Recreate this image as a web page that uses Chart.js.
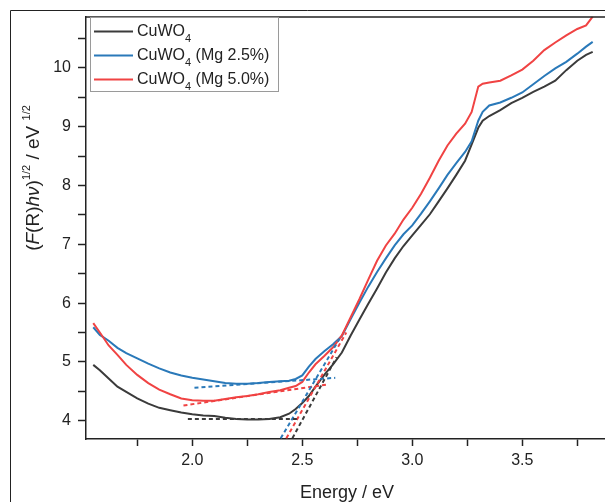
<!DOCTYPE html>
<html>
<head>
<meta charset="utf-8">
<script src="https://cdn.jsdelivr.net/npm/chart.js@4/dist/chart.umd.min.js"></script>
<style>
  html, body { margin: 0; padding: 0; background: #fff; }
  #wrap { width: 605px; height: 502px; position: relative; }
</style>
</head>
<body>
<div id="wrap"><canvas id="tauc-chart" width="605" height="502"></canvas></div>
<script>
const energy = [1.55, 1.58, 1.62, 1.66, 1.70, 1.75, 1.80, 1.85, 1.90, 1.95, 2.00, 2.05, 2.10, 2.15, 2.20, 2.25, 2.30, 2.35, 2.40, 2.44, 2.47, 2.50, 2.53, 2.56, 2.60, 2.64, 2.68, 2.72, 2.76, 2.80, 2.84, 2.88, 2.92, 2.96, 3.00, 3.04, 3.08, 3.12, 3.16, 3.20, 3.24, 3.27, 3.30, 3.32, 3.35, 3.40, 3.45, 3.50, 3.55, 3.60, 3.65, 3.70, 3.75, 3.79, 3.82];

const cuwo4 = [4.95, 4.86, 4.72, 4.58, 4.49, 4.38, 4.29, 4.22, 4.18, 4.14, 4.11, 4.09, 4.08, 4.05, 4.03, 4.02, 4.02, 4.03, 4.06, 4.12, 4.20, 4.30, 4.42, 4.58, 4.78, 4.96, 5.16, 5.45, 5.72, 5.99, 6.25, 6.52, 6.76, 6.97, 7.15, 7.33, 7.51, 7.73, 7.95, 8.18, 8.42, 8.70, 8.98, 9.10, 9.18, 9.28, 9.40, 9.49, 9.59, 9.68, 9.78, 9.96, 10.12, 10.22, 10.27];
const cuwo4Mg25 = [5.59, 5.46, 5.36, 5.24, 5.15, 5.06, 4.97, 4.89, 4.82, 4.77, 4.73, 4.70, 4.67, 4.64, 4.63, 4.63, 4.64, 4.66, 4.67, 4.68, 4.71, 4.77, 4.92, 5.05, 5.18, 5.30, 5.44, 5.73, 6.01, 6.28, 6.53, 6.76, 6.98, 7.17, 7.32, 7.52, 7.73, 7.95, 8.18, 8.38, 8.57, 8.75, 9.10, 9.25, 9.36, 9.41, 9.49, 9.58, 9.72, 9.86, 9.99, 10.10, 10.24, 10.36, 10.44];
const cuwo4Mg50 = [5.66, 5.50, 5.28, 5.12, 4.95, 4.78, 4.64, 4.53, 4.45, 4.38, 4.35, 4.34, 4.34, 4.37, 4.40, 4.42, 4.45, 4.49, 4.52, 4.56, 4.59, 4.66, 4.82, 4.96, 5.10, 5.25, 5.45, 5.76, 6.07, 6.40, 6.72, 6.98, 7.18, 7.42, 7.62, 7.86, 8.13, 8.42, 8.68, 8.88, 9.05, 9.25, 9.68, 9.73, 9.75, 9.78, 9.87, 9.97, 10.12, 10.30, 10.43, 10.55, 10.66, 10.72, 10.87];

// tangent lines (baseline + absorption edge)
const blackBaseX = [1.98, 2.48];
const blackBaseY = [4.03, 4.03];
const blackEdgeX = [2.44, 2.656];
const blackEdgeY = [3.60, 5.08];
const blueBaseX = [2.01, 2.65];
const blueBaseY = [4.56, 4.73];
const blueEdgeX = [2.386, 2.675];
const blueEdgeY = [3.60, 5.43];
const redBaseX = [1.96, 2.62];
const redBaseY = [4.26, 4.62];
const redEdgeX = [2.412, 2.70];
const redEdgeY = [3.60, 5.50];

const xTicks = [1.75, 2.0, 2.25, 2.5, 2.75, 3.0, 3.25, 3.5, 3.75];
const yTicks = [4, 4.5, 5, 5.5, 6, 6.5, 7, 7.5, 8, 8.5, 9, 9.5, 10, 10.5];

const seriesLabels = ["CuWO4", "CuWO4 (Mg 2.5%)", "CuWO4 (Mg 5.0%)"];
const BLACK = "#3b3b3b";
const BLUE = "#2a79b9";
const RED = "#f04343";
const FONT = "'Liberation Sans', Arial, sans-serif";

const toPoints = (xs, ys) => xs.map((x, i) => ({ x, y: ys[i] }));

const mainLine = (label, ys, color, order) => ({
  label,
  data: toPoints(energy, ys),
  borderColor: color,
  borderWidth: 2,
  pointRadius: 0,
  tension: 0,
  order,
});

const fitLine = (xs, ys, color) => ({
  label: "",
  data: toPoints(xs, ys),
  borderColor: color,
  borderWidth: 2,
  borderDash: [4, 3],
  pointRadius: 0,
  order: 0,
});

// draws frame, axis titles with italics / superscripts, and legend with subscripts
const decorPlugin = {
  id: "decor",
  afterDraw(chart) {
    const { ctx, chartArea } = chart;
    ctx.save();
    ctx.strokeStyle = "#222";
    ctx.lineWidth = 1;
    ctx.beginPath();
    ctx.moveTo(10.5, 502);
    ctx.lineTo(10.5, 10.5);
    ctx.lineTo(605, 10.5);
    ctx.stroke();
    ctx.lineWidth = 1.5;
    ctx.beginPath();
    ctx.moveTo(chartArea.left, chartArea.top + 0.5);
    ctx.lineTo(605, chartArea.top + 0.5);
    ctx.stroke();

    ctx.fillStyle = "#222";
    ctx.textBaseline = "alphabetic";

    // x title
    ctx.font = `18px ${FONT}`;
    ctx.textAlign = "center";
    ctx.fillText("Energy / eV", 347, 498);

    // y title
    const parts = [
      ["(", "n"], ["F", "i"], ["(R)", "n"], ["hν", "i"], [")", "n"],
      ["1/2", "s"], [" / eV ", "n"], ["1/2", "s"],
    ];
    const fontFor = (kind) =>
      kind === "i" ? `italic 19px ${FONT}` : kind === "s" ? `11px ${FONT}` : `19px ${FONT}`;
    let total = 0;
    parts.forEach(([t, k]) => { ctx.font = fontFor(k); total += ctx.measureText(t).width; });
    ctx.translate(39, 178);
    ctx.rotate(-Math.PI / 2);
    ctx.textAlign = "left";
    let x = -total / 2;
    parts.forEach(([t, k]) => {
      ctx.font = fontFor(k);
      ctx.fillText(t, x, k === "s" ? -9 : 0);
      x += ctx.measureText(t).width;
    });
    ctx.restore();

    // legend
    ctx.save();
    ctx.strokeStyle = "#9a9a9a";
    ctx.lineWidth = 1;
    ctx.strokeRect(90.5, 17.5, 188, 74);
    const colors = [BLACK, BLUE, RED];
    const rowY = [31.5, 55.5, 79.5];
    seriesLabels.forEach((label, i) => {
      const y = rowY[i];
      ctx.strokeStyle = colors[i];
      ctx.lineWidth = 2;
      ctx.beginPath();
      ctx.moveTo(94, y);
      ctx.lineTo(133, y);
      ctx.stroke();
      ctx.fillStyle = "#222";
      ctx.textBaseline = "middle";
      ctx.textAlign = "left";
      ctx.font = `16px ${FONT}`;
      let tx = 137;
      ctx.fillText("CuWO", tx, y);
      tx += ctx.measureText("CuWO").width;
      ctx.font = `11px ${FONT}`;
      ctx.fillText("4", tx, y + 7);
      tx += ctx.measureText("4").width;
      const rest = label.slice(5);
      if (rest) {
        ctx.font = `16px ${FONT}`;
        ctx.fillText(rest, tx, y);
      }
    });
    ctx.restore();
  },
};

const isHalf = (v) => Math.abs(v * 2 - Math.round(v * 2)) < 1e-6;

new Chart(document.getElementById("tauc-chart"), {
  type: "line",
  data: {
    datasets: [
      mainLine(seriesLabels[0], cuwo4, BLACK, 3),
      mainLine(seriesLabels[1], cuwo4Mg25, BLUE, 2),
      mainLine(seriesLabels[2], cuwo4Mg50, RED, 1),
      fitLine(blackBaseX, blackBaseY, BLACK),
      fitLine(blackEdgeX, blackEdgeY, BLACK),
      fitLine(blueBaseX, blueBaseY, BLUE),
      fitLine(blueEdgeX, blueEdgeY, BLUE),
      fitLine(redBaseX, redBaseY, RED),
      fitLine(redEdgeX, redEdgeY, RED),
    ],
  },
  options: {
    responsive: false,
    animation: false,
    layout: { padding: { top: 12, right: 0, left: 0, bottom: 0 } },
    plugins: { legend: { display: false }, tooltip: { enabled: false } },
    scales: {
      x: {
        type: "linear",
        min: 1.517,
        max: 3.876,
        afterBuildTicks: (scale) => { scale.ticks = xTicks.map((value) => ({ value })); },
        afterFit: (scale) => { scale.height = 63; },
        ticks: {
          color: "#222",
          font: { family: FONT, size: 16 },
          padding: 5,
          maxRotation: 0,
          autoSkip: false,
          callback: (v) => (isHalf(v) ? v.toFixed(1) : ""),
        },
        grid: { drawOnChartArea: false, tickLength: 7, tickColor: "#222", tickWidth: 1.5 },
        border: { color: "#222", width: 1.5 },
      },
      y: {
        type: "linear",
        min: 3.69,
        max: 10.87,
        afterBuildTicks: (scale) => { scale.ticks = yTicks.map((value) => ({ value })); },
        afterFit: (scale) => { scale.width = 86; },
        ticks: {
          color: "#222",
          font: { family: FONT, size: 16 },
          padding: 7,
          autoSkip: false,
          callback: (v) => (Number.isInteger(v) ? String(v) : ""),
        },
        grid: { drawOnChartArea: false, tickLength: 8, tickColor: "#222", tickWidth: 1.5 },
        border: { color: "#222", width: 1.5 },
      },
    },
  },
  plugins: [decorPlugin],
});
</script>
</body>
</html>
